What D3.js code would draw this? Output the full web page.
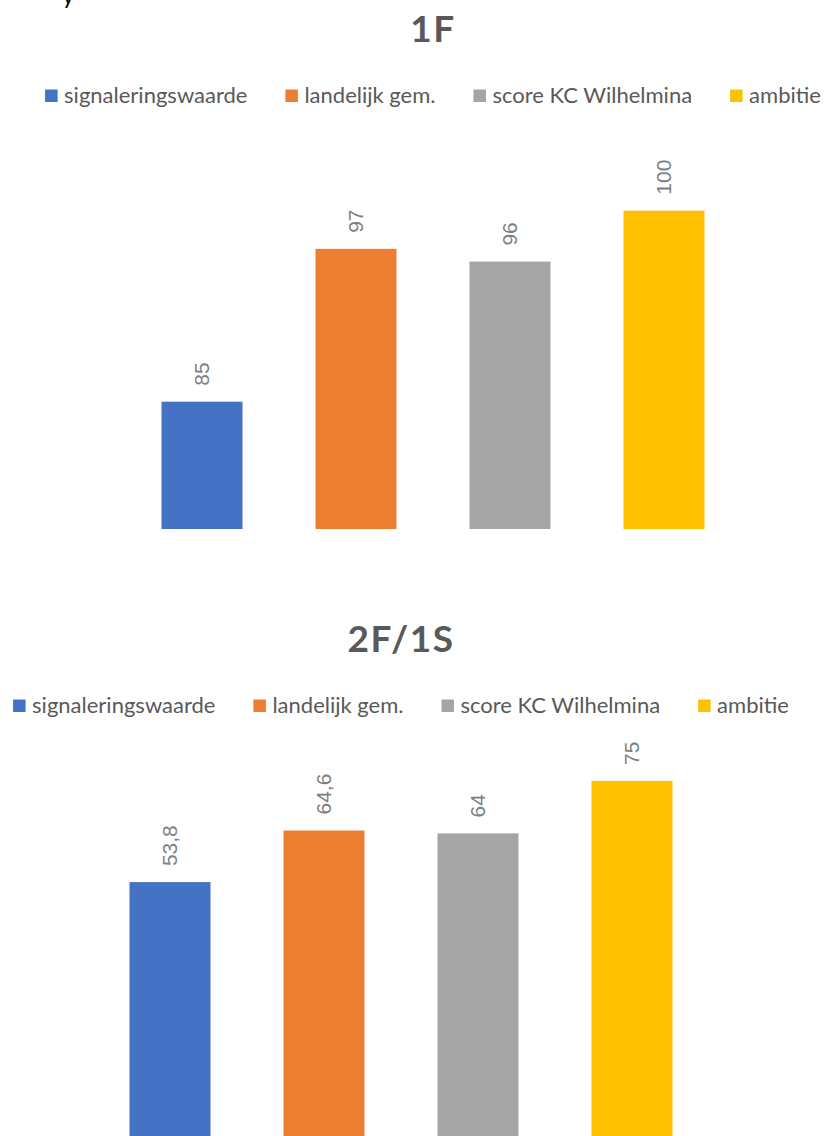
<!DOCTYPE html>
<html>
<head>
<meta charset="utf-8">
<title>1F en 2F/1S</title>
<script src="https://cdn.jsdelivr.net/npm/d3@7"></script>
<style>
body { margin: 0; background: #fff; }
.title { font: bold 37px Lato, sans-serif; fill: #595959; letter-spacing: 1.5px; }
.legend text { font: 22px Lato, sans-serif; fill: #595959; }
.label { font: 21px "Liberation Sans", sans-serif; fill: #7f7f7f; }
</style>
</head>
<body>
<script>
// data
var categories = ["signaleringswaarde", "landelijk gem.", "score KC Wilhelmina", "ambitie"];
var colors = ["#4472C4", "#ED7D31", "#A5A5A5", "#FFC000"];
var titles = ["1F", "2F/1S"];
var values1F = [85, 97, 96, 100];
var values2F = [53.8, 64.6, 64, 75];
var domain1F = [75, 105];   // axis min/max (axis itself hidden)
var domain2F = [0, 80];

var width = 828, height = 1136;

// dutch number format: 53,8
var nl = d3.formatLocale({decimal: ",", thousands: ".", grouping: [3], currency: ["€", ""]});
var fmt = nl.format(".1~f");

var svg = d3.select("body").append("svg")
    .attr("width", width)
    .attr("height", height);

// leftover descender from text above the picture
svg.append("text")
    .attr("x", 62)
    .attr("y", 4)
    .style("font", "24px Lato, sans-serif")
    .style("fill", "#000")
    .text("y");

// one chart, drawn in its own frame
function drawChart(g, title, values, domain) {
    var cx = 433;

    g.append("text")
        .attr("class", "title")
        .attr("x", cx)
        .attr("y", 42)
        .style("text-anchor", "middle")
        .text(title);

    // legend, centred like excel does
    var legend = g.append("g").attr("class", "legend");
    var items = legend.selectAll("g")
        .data(categories)
        .enter().append("g");
    items.append("rect")
        .attr("width", 12.5)
        .attr("height", 12.5)
        .attr("y", 89.5)
        .style("fill", function(d, i) { return colors[i]; });
    items.append("text")
        .attr("x", 19)
        .attr("y", 103)
        .text(function(d) { return d; });

    var widths = [];
    items.select("text").each(function() { widths.push(19 + this.getComputedTextLength()); });
    var gap = 38;
    var total = d3.sum(widths) + gap * (widths.length - 1);
    var pos = cx - total / 2;
    items.attr("transform", function(d, i) {
        var x = pos;
        pos += widths[i] + gap;
        return "translate(" + x + ",0)";
    });

    var x = d3.scaleBand()
        .domain(categories)
        .range([125, 741])
        .paddingInner(0.474)
        .paddingOuter(0.237);

    var y = d3.scaleLinear()
        .domain(domain)
        .range([529, 147]);

    g.selectAll(".bar")
        .data(values)
        .enter().append("rect")
        .attr("class", "bar")
        .attr("x", function(d, i) { return x(categories[i]); })
        .attr("width", x.bandwidth())
        .attr("y", function(d) { return y(d); })
        .attr("height", function(d) { return y(domain[0]) - y(d); })
        .style("fill", function(d, i) { return colors[i]; });

    g.selectAll(".label")
        .data(values)
        .enter().append("text")
        .attr("class", "label")
        .attr("transform", function(d, i) {
            return "translate(" + (x(categories[i]) + x.bandwidth() / 2) + "," + (y(d) - 16) + ") rotate(-90)";
        })
        .attr("dy", "0.35em")
        .text(function(d) { return fmt(d); });
}

drawChart(svg.append("g"), titles[0], values1F, domain1F);
drawChart(svg.append("g").attr("transform", "translate(-32,610)"), titles[1], values2F, domain2F);
</script>
</body>
</html>
